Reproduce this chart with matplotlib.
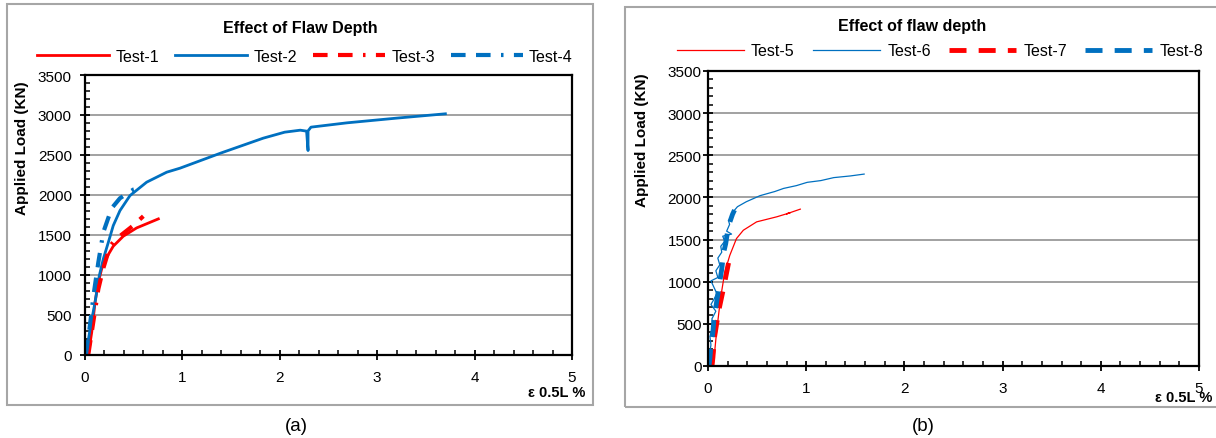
import matplotlib
matplotlib.use("Agg")
import matplotlib.pyplot as plt
from matplotlib.patches import Rectangle
from matplotlib.ticker import MultipleLocator

plt.rcParams["font.family"] = ["Liberation Sans", "DejaVu Sans"]

W, H = 1216, 439
RED = "#ff0000"
BLUE = "#0070c0"
GRID = "#9a9a9a"
BOX = "#a6a6a6"

# ---- panel (a): strain (%) vs applied load (kN) ----
test1_strain = [0.034, 0.069, 0.103, 0.137, 0.171, 0.223, 0.29, 0.393, 0.53, 0.753]
test1_load = [0, 278, 654, 905, 1071, 1218, 1356, 1481, 1585, 1698]

test2_strain = [0.01, 0.058, 0.103, 0.147, 0.188, 0.24, 0.29, 0.359, 0.462, 0.633,
                0.839, 0.975, 1.40, 1.83, 2.05, 2.21, 2.275, 2.29, 2.29, 2.32,
                2.69, 3.2, 3.70]
test2_load = [0, 361, 654, 988, 1197, 1406, 1614, 1802, 1990, 2158,
              2283, 2333, 2525, 2709, 2784, 2809, 2797, 2554, 2800, 2847,
              2901, 2960, 3014]

test3_strain = [0.034, 0.137, 0.188, 0.257, 0.308, 0.486, 0.599]
test3_load = [0, 820, 1080, 1356, 1435, 1606, 1732]

test4_strain = [0.01, 0.05, 0.092, 0.137, 0.188, 0.274, 0.359, 0.496, 0.6]
test4_load = [0, 361, 780, 1155, 1531, 1832, 1957, 2065, 2095]

# ---- panel (b) ----
test5_strain = [0.054, 0.087, 0.127, 0.171, 0.222, 0.29, 0.36, 0.495, 0.70,
                0.836, 0.80, 0.94]
test5_load = [0, 401, 798, 1115, 1313, 1512, 1611, 1710, 1770,
              1818, 1805, 1861]

test6_strain = [0.0, 0.01, 0.03, 0.02, 0.05, 0.04, 0.08, 0.03, 0.06, 0.09, 0.03,
                0.10, 0.08, 0.12, 0.10, 0.14, 0.13, 0.17, 0.15, 0.24, 0.19, 0.22,
                0.21, 0.27, 0.30, 0.39, 0.53, 0.68, 0.77, 0.90, 1.01, 1.15,
                1.28, 1.45, 1.59]
test6_load = [0, 100, 250, 350, 480, 560, 650, 730, 790, 860, 1010,
              1050, 1130, 1200, 1280, 1350, 1420, 1480, 1540, 1565, 1600, 1680,
              1720, 1849, 1890, 1949, 2021, 2070, 2107, 2140, 2179, 2200,
              2235, 2255, 2277]

test7_strain = [0.04, 0.05, 0.066, 0.11, 0.157, 0.218, 0.23]
test7_load = [0, 100, 340, 660, 917, 1274, 1330]

test8_strain = [0.01, 0.02, 0.03, 0.05, 0.06, 0.08, 0.10, 0.12, 0.14, 0.16,
                0.18, 0.20, 0.22, 0.25, 0.27]
test8_load = [0, 100, 250, 400, 550, 700, 850, 1000, 1150, 1350,
              1450, 1600, 1700, 1800, 1850]

X_LABEL = "\u03b5 0.5L %"
Y_LABEL = "Applied Load (KN)"


def px(x, y):
    return x / W, 1 - y / H


def style_axes(ax, ypad):
    ax.set_xlim(0, 5)
    ax.set_ylim(0, 3500)
    ax.xaxis.set_major_locator(MultipleLocator(1))
    ax.xaxis.set_minor_locator(MultipleLocator(0.2))
    ax.yaxis.set_major_locator(MultipleLocator(500))
    ax.yaxis.set_minor_locator(MultipleLocator(100))
    ax.grid(axis="y", which="major", color=GRID, linewidth=1.3)
    ax.set_axisbelow(True)
    for s in ax.spines.values():
        s.set_linewidth(1.6)
        s.set_color("black")
    ax.tick_params(which="major", direction="inout", length=7, width=1.3,
                   labelsize=11, color="black")
    ax.tick_params(which="minor", direction="in", length=3.5, width=1.1)
    ax.tick_params(axis="y", which="major", pad=ypad)
    ax.tick_params(axis="x", which="major", pad=7.5)
    ax.tick_params(top=False, right=False, which="both")


fig = plt.figure(figsize=(W / 100, H / 100), dpi=100)

# outer chart boxes
fig.patches.append(Rectangle(px(7, 406), 586 / W, 401 / H, transform=fig.transFigure,
                             fill=False, edgecolor=BOX, linewidth=1.5))
fig.patches.append(Rectangle(px(625, 408), 620 / W, 400 / H, transform=fig.transFigure,
                             fill=False, edgecolor=BOX, linewidth=1.5))

# ---- panel (a) ----
ax1 = fig.add_axes([85 / W, 1 - 355.5 / H, 487 / W, 279.5 / H])
style_axes(ax1, ypad=6)
ax1.plot(test1_strain, test1_load, color=RED, lw=2, label="Test-1")
ax1.plot(test2_strain, test2_load, color=BLUE, lw=2, label="Test-2")
ax1.plot(test3_strain, test3_load, color=RED, lw=3, label="Test-3",
         dashes=(3.5, 2.5, 3.5, 2.5, 0.6, 2.5), dash_capstyle="butt")
ax1.plot(test4_strain, test4_load, color=BLUE, lw=3, label="Test-4",
         dashes=(3.5, 2.5, 3.5, 2.5, 0.6, 2.5), dash_capstyle="butt")
ax1.legend(loc="center", bbox_to_anchor=px(305, 57), bbox_transform=fig.transFigure,
           ncol=4, frameon=False, fontsize=11.5, handlelength=4.5,
           handletextpad=0.4, columnspacing=1.0, borderpad=0)

fig.text(*px(300, 29), "Effect of Flaw Depth", ha="center", va="center",
         fontsize=11.5, fontweight="bold")
fig.text(*px(22, 148), Y_LABEL, rotation=90, ha="center", va="center",
         fontsize=11, fontweight="bold")
fig.text(*px(585, 393), X_LABEL, ha="right", va="center",
         fontsize=10.5, fontweight="bold")
fig.text(*px(296, 427), "(a)", ha="center", va="center", fontsize=13.5)

# ---- panel (b) ----
ax2 = fig.add_axes([708 / W, 1 - 367 / H, 491 / W, 295 / H])
style_axes(ax2, ypad=1)
ax2.plot(test5_strain, test5_load, color=RED, lw=0.9, label="Test-5")
ax2.plot(test6_strain, test6_load, color=BLUE, lw=0.9, label="Test-6")
ax2.plot(test7_strain, test7_load, color=RED, lw=3.5, label="Test-7",
         dashes=(3.5, 2.5), dash_capstyle="butt")
ax2.plot(test8_strain, test8_load, color=BLUE, lw=3.5, label="Test-8",
         dashes=(3.5, 2.5), dash_capstyle="butt")
ax2.legend(loc="center", bbox_to_anchor=px(940, 52), bbox_transform=fig.transFigure,
           ncol=4, frameon=False, fontsize=11.5, handlelength=4.2,
           handletextpad=0.45, columnspacing=1.15, borderpad=0)

fig.text(*px(912, 27), "Effect of flaw depth", ha="center", va="center",
         fontsize=11.5, fontweight="bold")
fig.text(*px(642, 140), Y_LABEL, rotation=90, ha="center", va="center",
         fontsize=11, fontweight="bold")
fig.text(*px(1212, 398), X_LABEL, ha="right", va="center",
         fontsize=10.5, fontweight="bold")
fig.text(*px(923, 427), "(b)", ha="center", va="center", fontsize=13.5)

fig.savefig("out.png", dpi=100)
